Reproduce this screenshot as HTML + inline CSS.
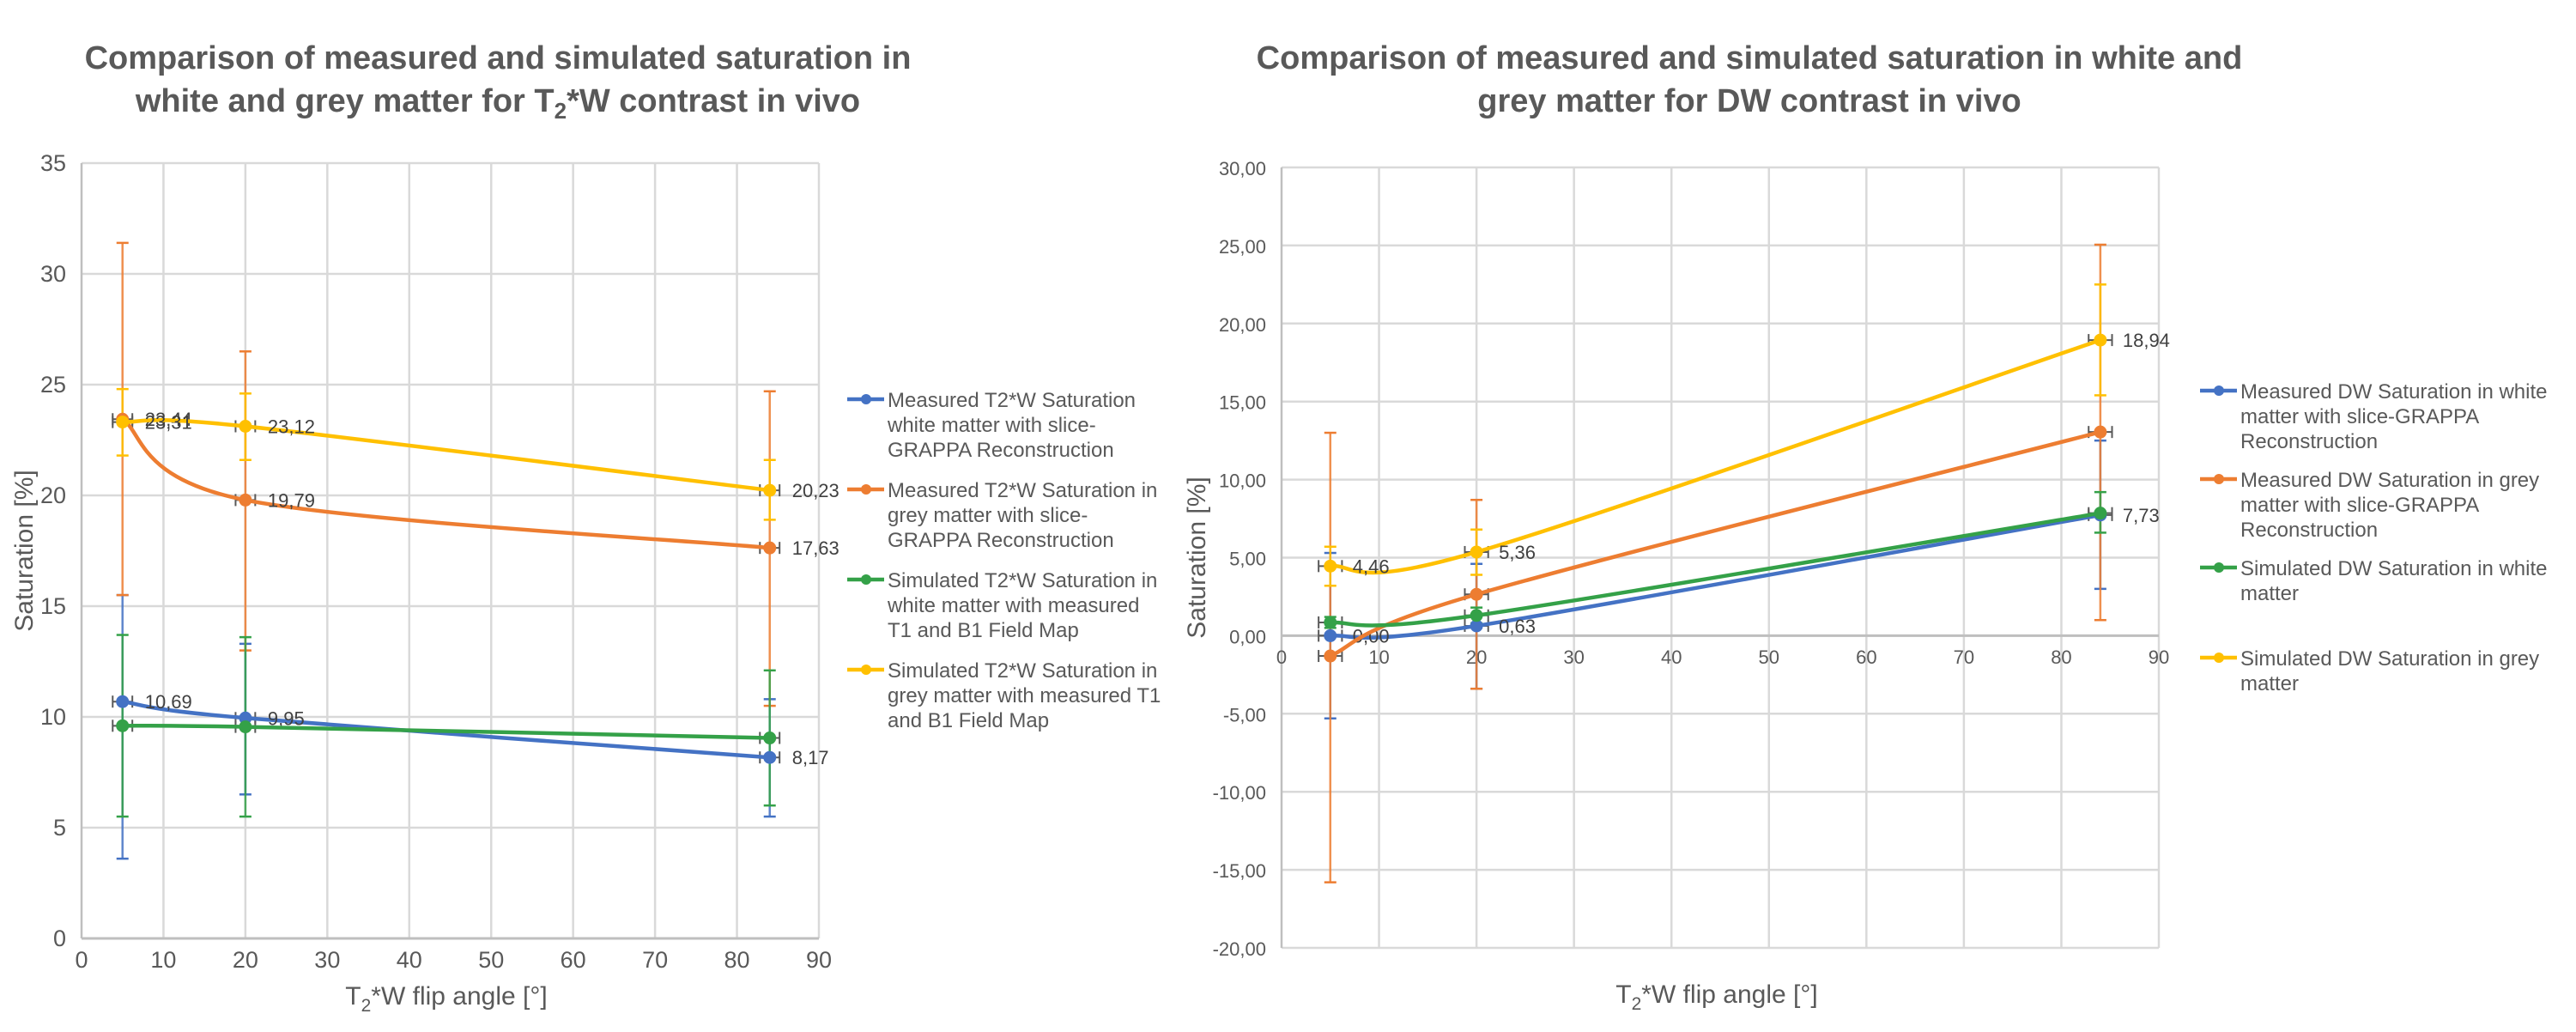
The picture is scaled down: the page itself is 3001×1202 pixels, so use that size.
<!DOCTYPE html>
<html><head><meta charset="utf-8"><style>
html,body{margin:0;padding:0;background:#fff;}
svg{display:block;font-family:"Liberation Sans",sans-serif;}
</style></head><body>
<svg id="s" width="3001" height="1202" viewBox="0 0 3001 1202" xmlns="http://www.w3.org/2000/svg">
<g font-weight="bold" font-size="38" fill="#595959" text-anchor="middle">
<text x="580" y="80">Comparison of measured and simulated saturation in</text>
<text x="580" y="130">white and grey matter for T<tspan font-size="26" dy="8">2</tspan><tspan dy="-8">*W contrast in vivo</tspan></text>
</g>
<g font-weight="bold" font-size="38" fill="#595959" text-anchor="middle">
<text x="2038" y="80">Comparison of measured and simulated saturation in white and</text>
<text x="2038" y="130">grey matter for DW contrast in vivo</text>
</g>
<g id="L"></g>
<g id="R"></g>
</svg>
<script>
const xs = [5, 20, 84];
// Left chart (T2*W)
const L_blue = [10.69, 9.95, 8.17];
const L_blueLo = [3.6, 6.5, 5.5];
const L_blueHi = [15.5, 13.3, 10.8];
const L_orange = [23.44, 19.79, 17.63];
const L_orangeLo = [15.5, 13.0, 10.5];
const L_orangeHi = [31.4, 26.5, 24.7];
const L_green = [9.6, 9.55, 9.05];
const L_greenLo = [5.5, 5.5, 6.0];
const L_greenHi = [13.7, 13.6, 12.1];
const L_yellow = [23.31, 23.12, 20.23];
const L_yellowLo = [21.8, 21.6, 18.9];
const L_yellowHi = [24.8, 24.6, 21.6];
const L_yTicks = [0, 5, 10, 15, 20, 25, 30, 35];
const xTicks = [0, 10, 20, 30, 40, 50, 60, 70, 80, 90];
const L_labels = [["10,69","9,95","8,17"],["23,44","19,79","17,63"],["","",""],["23,31","23,12","20,23"]];
const L_legend = [["Measured T2*W Saturation","white matter with slice-","GRAPPA Reconstruction"],["Measured T2*W Saturation in","grey matter with slice-","GRAPPA Reconstruction"],["Simulated T2*W Saturation in","white matter with measured","T1 and B1 Field Map"],["Simulated T2*W Saturation in","grey matter with measured T1","and B1 Field Map"]];
// Right chart (DW)
const R_blue = [0.0, 0.63, 7.73];
const R_blueLo = [-5.3, -3.4, 3.0];
const R_blueHi = [5.3, 4.6, 12.5];
const R_orange = [-1.3, 2.65, 13.05];
const R_orangeLo = [-15.8, -3.4, 1.0];
const R_orangeHi = [13.0, 8.7, 25.05];
const R_green = [0.85, 1.3, 7.85];
const R_greenLo = [0.5, 0.8, 6.6];
const R_greenHi = [1.2, 1.8, 9.2];
const R_yellow = [4.46, 5.36, 18.94];
const R_yellowLo = [3.2, 3.9, 15.4];
const R_yellowHi = [5.7, 6.8, 22.5];
const R_yTicks = [-20, -15, -10, -5, 0, 5, 10, 15, 20, 25, 30];
const R_labels = [["0,00","0,63","7,73"],["","",""],["","",""],["4,46","5,36","18,94"]];
const R_legend = [["Measured DW Saturation in white","matter with slice-GRAPPA","Reconstruction"],["Measured DW Saturation in grey","matter with slice-GRAPPA","Reconstruction"],["Simulated DW Saturation in white","matter"],["Simulated DW Saturation in grey","matter"]];
const colors = ["#4472C4","#ED7D31","#34A148","#FFC000"];
const names = ["measured-white","measured-grey","simulated-white","simulated-grey"];
const NS = "http://www.w3.org/2000/svg";
function mk(p, tag, at){const e=document.createElementNS(NS,tag);for(const k in at)e.setAttribute(k,at[k]);p.appendChild(e);return e;}

function chart(g, cfg){
  const sx = v => cfg.x0 + (v-0)/(90-0)*(cfg.x1-cfg.x0);
  const ymin = cfg.yTicks[0], ymax = cfg.yTicks[cfg.yTicks.length-1];
  const sy = v => cfg.yb - (v-ymin)/(ymax-ymin)*(cfg.yb-cfg.yt);
  const grid = mk(g,'g',{});
  
  
  cfg.yTicks.forEach(t=>{
    const l=mk(grid,'line',{x1:cfg.x0,x2:cfg.x1,y1:sy(t),y2:sy(t),stroke:t===0&&cfg.zeroAxis?'#bfbfbf':'#d9d9d9','stroke-width':2.5});
    
    
    const tx=mk(grid,'text',{x:cfg.x0-18,y:sy(t)+9,'text-anchor':'end','font-size':cfg.tickFs,fill:'#595959'});
    
    
    tx.textContent=cfg.fmt(t);
  });
  xTicks.forEach(t=>{
    const l=mk(grid,'line',{x1:sx(t),x2:sx(t),y1:cfg.yt,y2:cfg.yb,stroke:t===0?'#bfbfbf':'#d9d9d9','stroke-width':2.5});
    
    
    const tx=mk(grid,'text',{x:sx(t),y:cfg.xLabY,'text-anchor':'middle','font-size':cfg.tickFs,fill:'#595959'});
    
    
    tx.textContent=t;
  });
  const ax=mk(grid,'line',{x1:cfg.x0,x2:cfg.x1,y1:sy(cfg.zeroAxis?0:ymin),y2:sy(cfg.zeroAxis?0:ymin),stroke:'#bfbfbf','stroke-width':3});
  
  
  // error bars
  cfg.series.forEach((s,i)=>{
    const eg=mk(g,'g',{});
    
    
    xs.forEach((x,j)=>{
      const X=sx(x);
      mk(eg,'line',{x1:X,x2:X,y1:sy(s.lo[j]),y2:sy(s.hi[j]),stroke:colors[i],'stroke-width':2.5,opacity:0.85});
      [s.lo[j],s.hi[j]].forEach(v=>mk(eg,'line',{x1:X-7,x2:X+7,y1:sy(v),y2:sy(v),stroke:colors[i],'stroke-width':2.5}));
      const Y=sy(s.v[j]);
      mk(eg,'line',{x1:sx(x-1.2),x2:sx(x+1.2),y1:Y,y2:Y,stroke:'#595959','stroke-width':2});
      [x-1.2,x+1.2].forEach(v=>mk(eg,'line',{x1:sx(v),x2:sx(v),y1:Y-7,y2:Y+7,stroke:'#595959','stroke-width':2}));
    });
  });
  // lines
  cfg.series.forEach((s,i)=>{
    const P=xs.map((x,j)=>[sx(x),sy(s.v[j])]);
    let d='M'+P[0][0]+','+P[0][1];
    for(let k=0;k<P.length-1;k++){
      const p0=P[Math.max(k-1,0)],p1=P[k],p2=P[k+1],p3=P[Math.min(k+2,P.length-1)];
      const c1=[p1[0]+(p2[0]-p0[0])/6,p1[1]+(p2[1]-p0[1])/6];
      const c2=[p2[0]-(p3[0]-p1[0])/6,p2[1]-(p3[1]-p1[1])/6];
      d+=` C${c1[0]},${c1[1]} ${c2[0]},${c2[1]} ${p2[0]},${p2[1]}`;
    }
    const path=mk(g,'path',{d:d,fill:'none',stroke:colors[i],'stroke-width':4.5});
    
    
    P.forEach((p,j)=>{
      const c=mk(g,'circle',{cx:p[0],cy:p[1],r:7.5,fill:colors[i]});
      
      
      if(cfg.labels[i][j]){
        const t=mk(g,'text',{x:p[0]+26,y:p[1]+8,'font-size':cfg.lblFs,fill:'#404040'});
        
        
        t.textContent=cfg.labels[i][j];
      }
    });
  });
  // axis titles
  const yt=mk(g,'text',{x:0,y:0,transform:`translate(${cfg.yTitleX},${(cfg.yt+cfg.yb)/2}) rotate(-90)`,'text-anchor':'middle','font-size':30,fill:'#595959'});
  
  
  yt.textContent='Saturation [%]';
  const xt=mk(g,'text',{x:cfg.xTitleX,y:cfg.xTitleY,'text-anchor':'middle','font-size':30,fill:'#595959'});
  
  
  xt.innerHTML='T<tspan font-size="21" dy="8">2</tspan><tspan dy="-8">*W flip angle [°]</tspan>';
  // legend
  cfg.legend.forEach((lines,i)=>{
    const lg=mk(g,'g',{});
    
    
    const cy=cfg.legY[i];
    mk(lg,'line',{x1:cfg.legX,x2:cfg.legX+43,y1:cy,y2:cy,stroke:colors[i],'stroke-width':4.5});
    mk(lg,'circle',{cx:cfg.legX+22,cy:cy,r:6,fill:colors[i]});
    lines.forEach((ln,k)=>{
      const t=mk(lg,'text',{x:cfg.legX+47,y:cy+9+k*29,'font-size':24,fill:'#595959'});
      t.textContent=ln;
    });
  });
}
function mkS(v,lo,hi){return {v:v,lo:lo,hi:hi};}
chart(document.getElementById('L'),{x0:95,x1:954,yt:190,yb:1093,yTicks:L_yTicks,fmt:t=>String(t),tickFs:27,lblFs:22,xLabY:1127,zeroAxis:false,
  series:[mkS(L_blue,L_blueLo,L_blueHi),mkS(L_orange,L_orangeLo,L_orangeHi),mkS(L_green,L_greenLo,L_greenHi),mkS(L_yellow,L_yellowLo,L_yellowHi)],
  labels:L_labels,yTitleX:38,xTitleX:520,xTitleY:1170,legend:L_legend,legX:987,legY:465+0*105<0?[]:[465,570,675,780]});
chart(document.getElementById('R'),{x0:1493,x1:2515,yt:195,yb:1104,yTicks:R_yTicks,fmt:t=>t.toFixed(2).replace('.',','),tickFs:22,lblFs:22,xLabY:773,zeroAxis:true,
  series:[mkS(R_blue,R_blueLo,R_blueHi),mkS(R_orange,R_orangeLo,R_orangeHi),mkS(R_green,R_greenLo,R_greenHi),mkS(R_yellow,R_yellowLo,R_yellowHi)],
  labels:R_labels,yTitleX:1404,xTitleX:2000,xTitleY:1168,legend:R_legend,legX:2563,legY:[455,558,661,766]});
</script>
</body></html>
